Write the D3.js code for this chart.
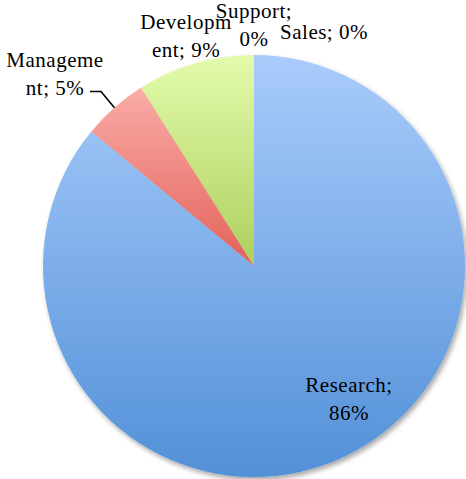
<!DOCTYPE html>
<html>
<head>
<meta charset="utf-8">
<script src="https://cdn.jsdelivr.net/npm/d3@7"></script>
<style>
  body { margin: 0; background: #fff; }
  svg { display: block; }
  text { font-family: "Liberation Serif", serif; font-size: 21px; letter-spacing: 0.5px; fill: #000; }
</style>
</head>
<body>
<svg id="chart"></svg>
<script>
// slice data, clockwise from 12 o'clock
var categories = ["Research", "Management", "Development", "Support", "Sales"];
var values = [86, 5, 9, 0, 0];
var gradTop = ["#a9ccfb", "#faaba7", "#e3fbac", "#cccccc", "#cccccc"];
var gradBottom = ["#5290d8", "#e3625a", "#aecf5c", "#999999", "#999999"];

// label lines and where they sit (chart placed them by hand)
var labelLines = {
    Research: ["Research;", "86%"],
    Management: ["Manageme", "nt; 5%"],
    Development: ["Developm", "ent; 9%"],
    Support: ["Support;", "0%"],
    Sales: ["Sales; 0%"]
};
var labelPos = {
    Research: [349, 392],
    Management: [55, 67],
    Development: [186, 29],
    Support: [254, 18],
    Sales: [324, 39]
};

var width = 466,
    height = 479,
    cx = 254,
    cy = 266,
    radius = 211,
    lineH = 27.5;

var svg = d3.select("#chart")
    .attr("width", width)
    .attr("height", height);

var defs = svg.append("defs");

defs.append("filter")
    .attr("id", "shadow")
    .attr("x", "-10%").attr("y", "-10%")
    .attr("width", "125%").attr("height", "125%")
    .append("feDropShadow")
    .attr("dx", 2).attr("dy", 3)
    .attr("stdDeviation", 2.5)
    .attr("flood-color", "#000")
    .attr("flood-opacity", 0.35);

categories.forEach(function (c, i) {
    var lg = defs.append("linearGradient")
        .attr("id", "grad" + i)
        .attr("x1", 0).attr("y1", 0)
        .attr("x2", 0).attr("y2", 1);
    lg.append("stop").attr("offset", "0%").attr("stop-color", gradTop[i]);
    lg.append("stop").attr("offset", "100%").attr("stop-color", gradBottom[i]);
});

var pie = d3.pie()
    .sort(null)
    .value(function (d) { return d; });

var arc = d3.arc()
    .innerRadius(0)
    .outerRadius(radius);

var arcs = pie(values);

var g = svg.append("g")
    .attr("transform", "translate(" + cx + "," + cy + ")");

g.append("g")
    .attr("filter", "url(#shadow)")
    .selectAll("path")
    .data(arcs.filter(function (d) { return d.value > 0; }))
    .enter()
    .append("path")
    .attr("d", arc)
    .attr("fill", function (d) { return "url(#grad" + d.index + ")"; });

// leader line for Management, from its label to the arc edge
var mgmt = arcs[1],
    mid = (mgmt.startAngle + mgmt.endAngle) / 2,
    edge = [radius * Math.sin(mid), -radius * Math.cos(mid)];

svg.append("path")
    .attr("d", d3.line()([[90, 91.5], [101, 91.5], [cx + edge[0], cy + edge[1]]]))
    .attr("fill", "none")
    .attr("stroke", "#000")
    .attr("stroke-width", 1.6);

var labels = svg.append("g")
    .selectAll("text")
    .data(categories)
    .enter()
    .append("text")
    .attr("text-anchor", "middle")
    .attr("transform", function (c) {
        return "translate(" + labelPos[c][0] + "," + labelPos[c][1] + ")";
    });

labels.selectAll("tspan")
    .data(function (c) { return labelLines[c]; })
    .enter()
    .append("tspan")
    .attr("x", 0)
    .attr("y", function (d, i) { return i * lineH; })
    .text(function (d) { return d; });
</script>
</body>
</html>
